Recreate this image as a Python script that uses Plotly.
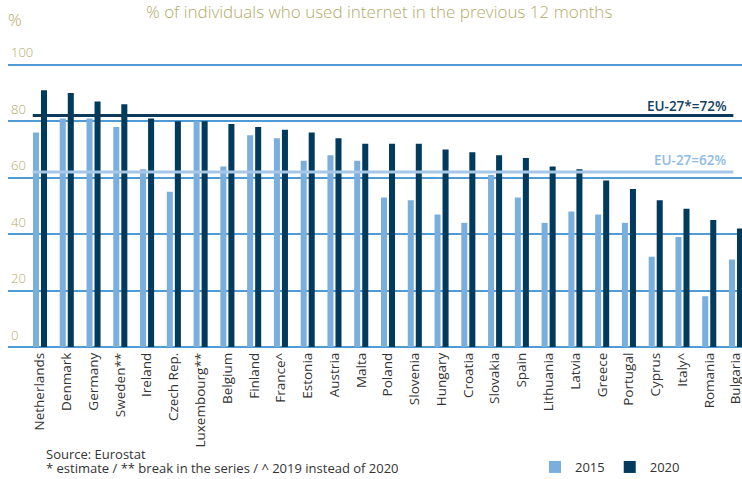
import plotly.graph_objects as go

countries = ["Netherlands", "Denmark", "Germany", "Sweden**", "Ireland", "Czech Rep.",
             "Luxembourg**", "Belgium", "Finland", "France^", "Estonia", "Austria", "Malta",
             "Poland", "Slovenia", "Hungary", "Croatia", "Slovakia", "Spain", "Lithuania",
             "Latvia", "Greece", "Portugal", "Cyprus", "Italy^", "Romania", "Bulgaria"]
values_2015 = [76, 81, 81, 78, 63, 55, 80, 64, 75, 74, 66, 68, 66, 53, 52, 47, 44, 61, 53,
               44, 48, 47, 44, 32, 39, 18, 31]
values_2020 = [91, 90, 87, 86, 81, 80, 80, 79, 78, 77, 76, 74, 72, 72, 72, 70, 69, 68, 67,
               64, 63, 59, 56, 52, 49, 45, 42]
y_ticks = [0, 20, 40, 60, 80, 100]
eu_2020_line = 82
eu_2020_label = "EU-27*=72%"
eu_2015_line = 62
eu_2015_label = "EU-27=62%"

LIGHT = "#7aafdd"
DARK = "#003a5c"
OLIVE = "#b3ab68"
GRID = "#4e9bd6"
TXT = "#333333"
FONT = "Open Sans"

W, H = 742, 479
YMAX = 108.8
PXU = 2.825  # pixels per unit
L, R, B = 8, 0, 131.5
T = (H - B) - YMAX * PXU
PW, PH = W - L - R, H - T - B


def px(xpage):
    return (xpage - L) / PW


def py(ypage):
    return (H - B - ypage) / PH


fig = go.Figure()
fig.add_trace(go.Bar(x=countries, y=values_2015, name="2015", marker_color=LIGHT,
                     marker_line_width=0))
fig.add_trace(go.Bar(x=countries, y=values_2020, name="2020", marker_color=DARK,
                     marker_line_width=0))

n = len(countries)
fig.add_shape(type="line", xref="x", yref="y", x0=-0.27, x1=n - 1.1,
              y0=eu_2020_line, y1=eu_2020_line, line=dict(color="#0d3a58", width=3), layer="above")
fig.add_shape(type="line", xref="x", yref="y", x0=-0.27, x1=n - 1.1,
              y0=eu_2015_line, y1=eu_2015_line, line=dict(color="#a6c7e8", width=3), layer="above")

fig.add_annotation(x=px(729), xref="paper", y=eu_2020_line, yref="y", text=eu_2020_label,
                   showarrow=False, xanchor="right", yanchor="bottom", yshift=-1,
                   font=dict(family=FONT, size=13.5, color="#12405f", weight=600))
fig.add_annotation(x=px(729), xref="paper", y=eu_2015_line, yref="y", text=eu_2015_label,
                   showarrow=False, xanchor="right", yanchor="bottom", yshift=1,
                   font=dict(family=FONT, size=13.5, color="#8fbbe3", weight=600))

fig.add_annotation(x=px(379), xref="paper", y=py(12), yref="paper",
                   text="% of individuals who used internet in the previous 12 months",
                   showarrow=False, xanchor="center", yanchor="middle",
                   font=dict(family=FONT, size=17, color=OLIVE, weight=300))
fig.add_annotation(x=px(6), xref="paper", y=py(20), yref="paper",
                   text="%", showarrow=False, xanchor="left", yanchor="middle",
                   font=dict(family=FONT, size=17, color=OLIVE, weight=300))
fig.add_annotation(x=px(44), xref="paper", y=py(455), yref="paper",
                   text="Source: Eurostat", showarrow=False, xanchor="left", yanchor="middle",
                   font=dict(family=FONT, size=13, color=TXT))
fig.add_annotation(x=px(44), xref="paper", y=py(469), yref="paper",
                   text="* estimate / ** break in the series / ^ 2019 instead of 2020",
                   showarrow=False, xanchor="left", yanchor="middle",
                   font=dict(family=FONT, size=13, color=TXT))

step = 26.77
x0 = -(40 - L) / step
fig.update_layout(
    width=W, height=H,
    margin=dict(l=L, r=R, t=T, b=B, pad=0, autoexpand=False),
    paper_bgcolor="white", plot_bgcolor="white",
    barmode="group", bargap=0.40, bargroupgap=0.25,
    font=dict(family=FONT, color=TXT),
    showlegend=True,
    legend=dict(orientation="h", xref="container", yref="container",
                x=(551 - 16) / W, y=1 - 467 / H, xanchor="left", yanchor="middle",
                font=dict(family=FONT, size=13, color=TXT), itemwidth=30,
                bgcolor="rgba(0,0,0,0)", traceorder="normal"),
    xaxis=dict(range=[x0, x0 + PW / step], tickangle=-90, showgrid=False, automargin=False,
               showline=False, ticks="", tickfont=dict(family=FONT, size=13.5, color=TXT),
               ticklabelstandoff=2),
    yaxis=dict(range=[0, YMAX], tickvals=y_ticks, ticktext=[str(v) for v in y_ticks],
               showgrid=True, gridcolor=GRID, gridwidth=1.5, zeroline=True, automargin=False,
               zerolinecolor=GRID, zerolinewidth=1.5, showline=False, ticks="",
               ticklabelposition="inside", ticklabelshift=-12, ticklabelstandoff=0,
               tickfont=dict(family=FONT, size=13, color=OLIVE, weight=300)),
)

fig.write_html("out.html", config={"displayModeBar": False},
               post_script="document.body.style.margin='0';document.body.style.padding='0';")
